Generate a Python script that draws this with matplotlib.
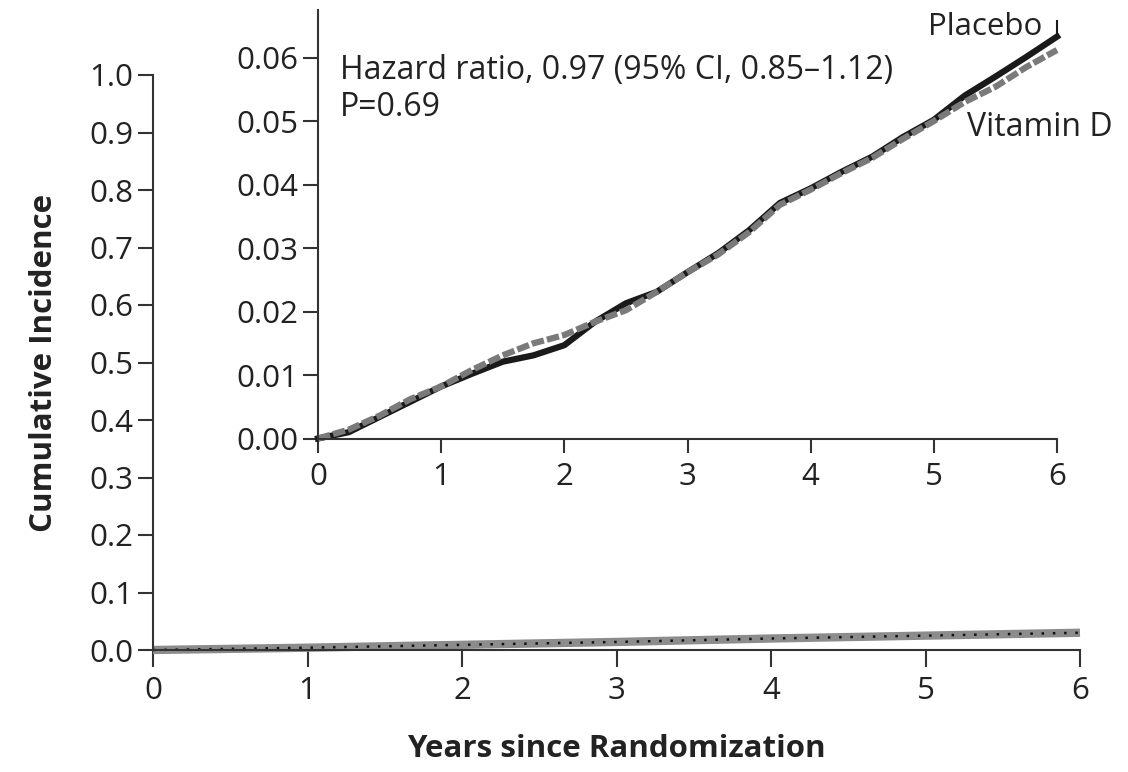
import matplotlib
matplotlib.use("Agg")
import matplotlib.pyplot as plt

plt.rcParams['font.family'] = ['Open Sans', 'DejaVu Sans']

# main panel (full 0-1 scale)
years_main = [0, 1, 2, 3, 4, 5, 6]
incidence_main = [0.0, 0.004, 0.009, 0.014, 0.020, 0.025, 0.030]

# inset (zoomed) curves
years = [0, 0.25, 0.5, 0.75, 1.0, 1.25, 1.5, 1.75, 2.0, 2.25, 2.5, 2.75,
         3.0, 3.25, 3.5, 3.75, 4.0, 4.25, 4.5, 4.75, 5.0, 5.25, 5.5, 5.75, 6.0]
placebo = [0.0, 0.0010, 0.0034, 0.0058, 0.0082, 0.0102, 0.0121, 0.0131, 0.0147,
           0.0184, 0.0213, 0.0231, 0.0262, 0.0292, 0.0328, 0.0371, 0.0394,
           0.0420, 0.0444, 0.0475, 0.0502, 0.0540, 0.0570, 0.0601, 0.0633]
vitamin_d = [0.0, 0.0014, 0.0036, 0.0062, 0.0082, 0.0108, 0.0131, 0.0150, 0.0163,
             0.0184, 0.0202, 0.0231, 0.0262, 0.0290, 0.0325, 0.0368, 0.0392,
             0.0418, 0.0442, 0.0472, 0.0500, 0.0530, 0.0554, 0.0585, 0.0612]

main_yticks = [0.0, 0.1, 0.2, 0.3, 0.4, 0.5, 0.6, 0.7, 0.8, 0.9, 1.0]
inset_yticks = [0.00, 0.01, 0.02, 0.03, 0.04, 0.05, 0.06]
xticks = [0, 1, 2, 3, 4, 5, 6]

fig = plt.figure(figsize=(11.28, 7.72), dpi=100)

ax = fig.add_axes([153 / 1128, 1 - 650 / 772, (1080 - 153) / 1128, (650 - 75) / 772])
ax.plot(years_main, incidence_main, color='#8c8c8c', lw=6, clip_on=False, solid_capstyle='butt')
ax.plot(years_main, incidence_main, color='#111111', lw=1.8, ls=(0, (1, 3.5)), clip_on=False)
ax.set_xlim(0, 6)
ax.set_ylim(0, 1.0)
ax.set_xticks(xticks)
ax.set_yticks(main_yticks)
ax.set_yticklabels([f"{v:.1f}" for v in main_yticks])
for s in ['top', 'right']:
    ax.spines[s].set_visible(False)
for s in ['left', 'bottom']:
    ax.spines[s].set_linewidth(1.5)
    ax.spines[s].set_color('#333333')
ax.tick_params(axis='both', labelsize=22.5, width=1.5, color='#333333', labelcolor='#222222')
ax.tick_params(axis='y', length=11, pad=3)
ax.tick_params(axis='x', length=12, pad=7)
ax.set_xlabel("Years since Randomization", fontsize=22.5, fontweight='bold', labelpad=20,
              color='#222222')
ax.set_ylabel("Cumulative Incidence", fontsize=22.5, fontweight='bold', labelpad=22,
              color='#222222')

# inset
ins = fig.add_axes([318 / 1128, 1 - 438.5 / 772, (1057 - 318) / 1128, (438.5 - 10) / 772])
ins.plot(years, placebo, color='#1a1a1a', lw=4.5, clip_on=False)
ins.plot([6, 6], [0.0633, 0.0657], color='#1a1a1a', lw=1.5, clip_on=False)
ins.plot(years, vitamin_d, color='#7a7a7a', lw=4.5, ls=(0, (2.0, 0.5)), clip_on=False)
ins.set_xlim(0, 6)
ins.set_ylim(0, 0.0675)
ins.set_xticks(xticks)
ins.set_yticks(inset_yticks)
ins.set_yticklabels([f"{v:.2f}" for v in inset_yticks])
for s in ['top', 'right']:
    ins.spines[s].set_visible(False)
for s in ['left', 'bottom']:
    ins.spines[s].set_linewidth(1.5)
    ins.spines[s].set_color('#333333')
ins.tick_params(axis='both', labelsize=22.5, width=1.5, color='#333333', labelcolor='#222222')
ins.tick_params(axis='y', length=11, pad=3)
ins.tick_params(axis='x', length=10, pad=7)

ins.text(0.18, 0.058, "Hazard ratio, 0.97 (95% CI, 0.85\u20131.12)", fontsize=23,
         va='center', ha='left', color='#222222')
ins.text(0.18, 0.0522, "P=0.69", fontsize=23, va='center', ha='left', color='#222222')
ins.text(4.95, 0.0648, "Placebo", fontsize=22.5, va='center', ha='left', color='#222222')
ins.text(5.27, 0.049, "Vitamin D", fontsize=23, va='center', ha='left', color='#222222')

fig.savefig("out.png", dpi=100)
